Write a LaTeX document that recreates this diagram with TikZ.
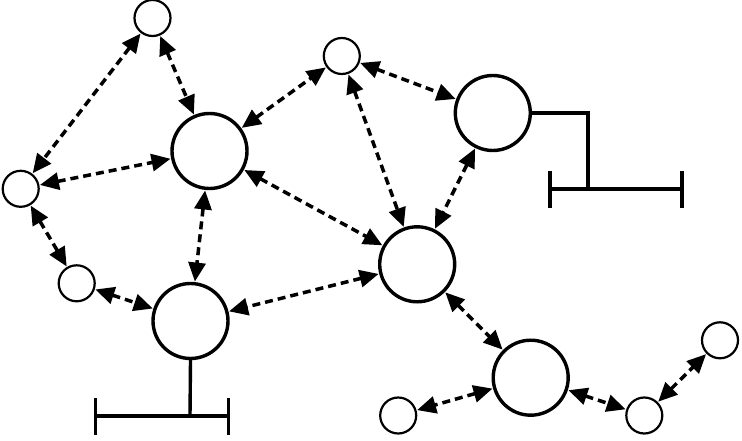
\documentclass[tikz,border=0pt]{standalone}
\usetikzlibrary{arrows.meta}
\begin{document}
\begin{tikzpicture}[x=1pt,y=-1pt,
  big/.style={circle,draw,line width=3.4pt,minimum size=75pt,inner sep=0pt,outer sep=1.7pt},
  small/.style={circle,draw,line width=2.2pt,minimum size=36pt,inner sep=0pt,outer sep=1.1pt},
  link/.style={line width=3.5pt,dash pattern=on 8pt off 5pt,{Triangle[length=19pt,width=17pt]}-{Triangle[length=19pt,width=17pt]},shorten <=0.5pt,shorten >=0.5pt},
  gnd/.style={line width=3.4pt}]
\useasboundingbox (0,0) rectangle (742,441);
\node[small] (s1) at (152.5,18) {};
\node[small] (s2) at (341.8,56) {};
\node[small] (s3) at (20.7,188.8) {};
\node[small] (s4) at (76.7,283.3) {};
\node[small] (s5) at (398.2,415.5) {};
\node[small] (s6) at (644.3,415.5) {};
\node[small] (s7) at (720,340.3) {};
\node[big] (L1) at (209.5,151) {};
\node[big] (L2) at (492.8,113) {};
\node[big] (L3) at (417.2,264.3) {};
\node[big] (L4) at (190.5,321) {};
\node[big] (L5) at (530.7,377.7) {};
% ground symbols
\coordinate (g2a) at (588,113);
\coordinate (g2b) at (588,189);
\coordinate (g2l) at (550,189);
\coordinate (g2r) at (682,189);
\draw[gnd] (L2.east) -- (g2a) -- (g2b);
\draw[gnd] (g2l) -- (g2r);
\draw[gnd] ([yshift=-19pt]g2l) -- ([yshift=18pt]g2l);
\draw[gnd] ([yshift=-19pt]g2r) -- ([yshift=18pt]g2r);
\coordinate (g4b) at (190,416);
\coordinate (g4l) at (95.7,416);
\coordinate (g4r) at (228.3,416);
\draw[gnd] (L4.south) -- (g4b);
\draw[gnd] (g4l) -- (g4r);
\draw[gnd] ([yshift=-19pt]g4l) -- ([yshift=18pt]g4l);
\draw[gnd] ([yshift=-19pt]g4r) -- ([yshift=18pt]g4r);
% links
\draw[link] (s1) -- (s3);
\draw[link] (s1) -- (L1);
\draw[link] (s3) -- (L1);
\draw[link] (s3) -- (s4);
\draw[link] (s4) -- (L4);
\draw[link] (L1) -- (L4);
\draw[link] (L1) -- (s2);
\draw[link] (L1) -- (L3);
\draw[link] (s2) -- (L3);
\draw[link] (s2) -- (L2);
\draw[link] (L2) -- (L3);
\draw[link] (L3) -- (L4);
\draw[link] (L3) -- (L5);
\draw[link] (L5) -- (s5);
\draw[link] (L5) -- (s6);
\draw[link] (s6) -- (s7);
\end{tikzpicture}
\end{document}
